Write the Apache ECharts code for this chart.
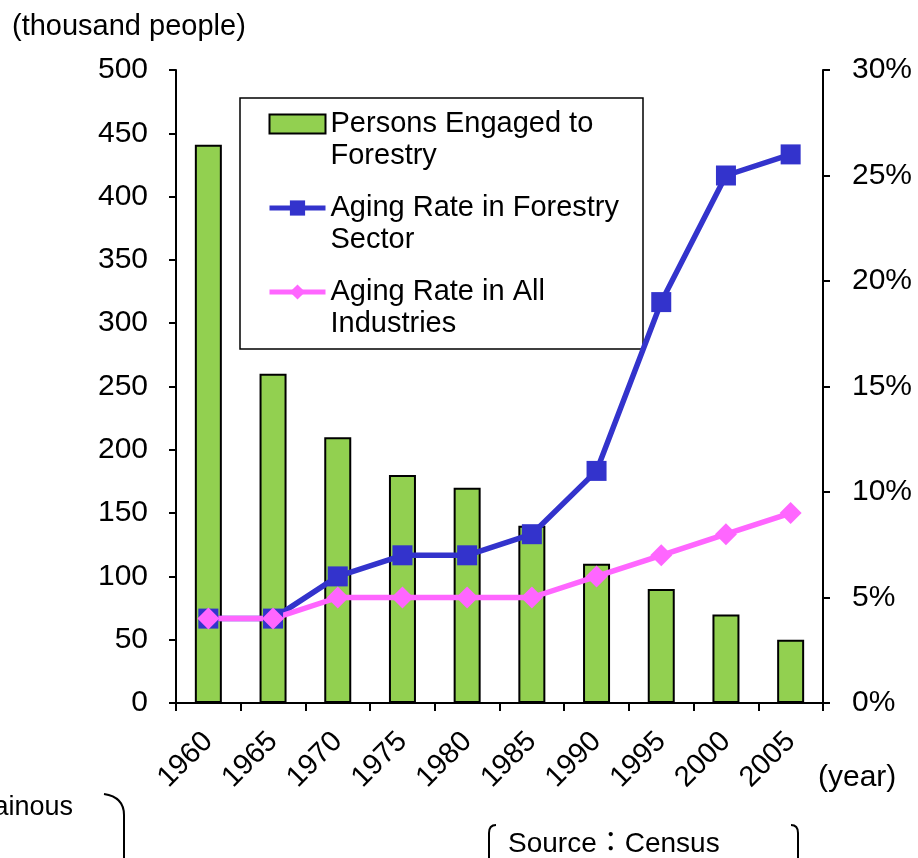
<!DOCTYPE html>
<html>
<head>
<meta charset="utf-8">
<script src="https://cdn.jsdelivr.net/npm/echarts@6/dist/echarts.min.js"></script>
<style>html,body{margin:0;padding:0;background:#fff;}#c{width:918px;height:858px;}</style>
</head>
<body>
<div id="c"></div>
<script>
var years = ['1960','1965','1970','1975','1980','1985','1990','1995','2000','2005'];
var personsEngaged = [441, 260, 210, 180, 170, 140, 110, 90, 70, 50];
var agingForestry = [4, 4, 6, 7, 7, 8, 11, 19, 25, 26];
var agingAll = [4, 4, 5, 5, 5, 5, 6, 7, 8, 9];
var seriesNames = ['Persons Engaged to\nForestry', 'Aging Rate in Forestry\nSector', 'Aging Rate in All\nIndustries'];

var FONT = '"Liberation Sans", Arial, sans-serif';
var chart = echarts.init(document.getElementById('c'));
var axisLine = {show: true, lineStyle: {color: '#000', width: 2}};
var strokeStyle = {stroke: '#000', lineWidth: 2, fill: null};
chart.setOption({
  animation: false,
  backgroundColor: '#fff',
  textStyle: {fontFamily: FONT},
  grid: {left: 176, right: 95, top: 70, bottom: 155, containLabel: false},
  legend: {
    orient: 'vertical',
    left: 267, top: 76,
    padding: 0,
    itemWidth: 56,
    itemHeight: 19,
    itemGap: -12,
    formatter: function (name) { return '\n' + name; },
    textStyle: {fontFamily: FONT, fontSize: 29, color: '#000', lineHeight: 32},
    data: [
      {name: seriesNames[0], icon: 'rect'},
      {name: seriesNames[1], lineStyle: {width: 5}},
      {name: seriesNames[2], lineStyle: {width: 5}}
    ]
  },
  xAxis: {
    type: 'category',
    data: years,
    boundaryGap: true,
    axisLine: axisLine,
    axisTick: {show: true, length: 8, lineStyle: {color: '#000', width: 2}},
    axisLabel: {rotate: 45, fontSize: 29, color: '#000', margin: 34, fontFamily: FONT, interval: 0},
    splitLine: {show: false}
  },
  yAxis: [
    {
      type: 'value', min: 0, max: 500, interval: 50, position: 'left',
      axisLine: axisLine,
      axisTick: {show: true, length: 7, lineStyle: {color: '#000', width: 2}},
      axisLabel: {fontSize: 30, color: '#000', margin: 28, fontFamily: FONT},
      splitLine: {show: false}
    },
    {
      type: 'value', min: 0, max: 30, interval: 5, position: 'right',
      axisLine: axisLine,
      axisTick: {show: true, length: 7, lineStyle: {color: '#000', width: 2}},
      axisLabel: {fontSize: 30, color: '#000', margin: 29, fontFamily: FONT, formatter: '{value}%'},
      splitLine: {show: false}
    }
  ],
  series: [
    {
      name: seriesNames[0], type: 'bar', yAxisIndex: 0, data: personsEngaged,
      barWidth: 27,
      itemStyle: {color: '#92d050', borderColor: '#000', borderWidth: 2}
    },
    {
      name: seriesNames[1], type: 'line', yAxisIndex: 1, data: agingForestry,
      symbol: 'rect', symbolSize: 20,
      lineStyle: {color: '#3333cc', width: 5.5},
      itemStyle: {color: '#3333cc'}
    },
    {
      name: seriesNames[2], type: 'line', yAxisIndex: 1, data: agingAll,
      symbol: 'diamond', symbolSize: [22, 22],
      lineStyle: {color: '#ff66ff', width: 5.5},
      itemStyle: {color: '#ff66ff'}
    }
  ],
  graphic: [
    {type: 'rect', z: 3, shape: {x: 240, y: 98, width: 403, height: 251}, style: {fill: '#fff', stroke: '#000', lineWidth: 1.5}},
    {type: 'text', x: 12, y: 12, style: {text: '(thousand people)', font: '29px ' + FONT, fill: '#000'}},
    {type: 'text', x: 818, y: 763, style: {text: '(year)', font: '30px ' + FONT, fill: '#000'}},
    {type: 'text', x: 73, y: 808, style: {text: 'Mountainous', font: '27px ' + FONT, fill: '#000', align: 'right', verticalAlign: 'middle'}},
    {type: 'text', x: 508, y: 844, style: {text: 'Source：Census', font: '28px ' + FONT + ', "Noto Sans CJK JP"', fill: '#000', verticalAlign: 'middle'}},
    {type: 'bezierCurve', shape: {x1: 104, y1: 794, cpx1: 124, cpy1: 797, x2: 124, y2: 815}, style: strokeStyle},
    {type: 'line', shape: {x1: 124, y1: 815, x2: 124, y2: 858}, style: strokeStyle},
    {type: 'line', shape: {x1: 489, y1: 833, x2: 489, y2: 858}, style: strokeStyle},
    {type: 'bezierCurve', shape: {x1: 489, y1: 833, cpx1: 489, cpy1: 825, x2: 496, y2: 825}, style: strokeStyle},
    {type: 'bezierCurve', shape: {x1: 791, y1: 825, cpx1: 798, cpy1: 825, x2: 798, y2: 833}, style: strokeStyle},
    {type: 'line', shape: {x1: 798, y1: 833, x2: 798, y2: 858}, style: strokeStyle}
  ]
});
</script>
</body>
</html>
